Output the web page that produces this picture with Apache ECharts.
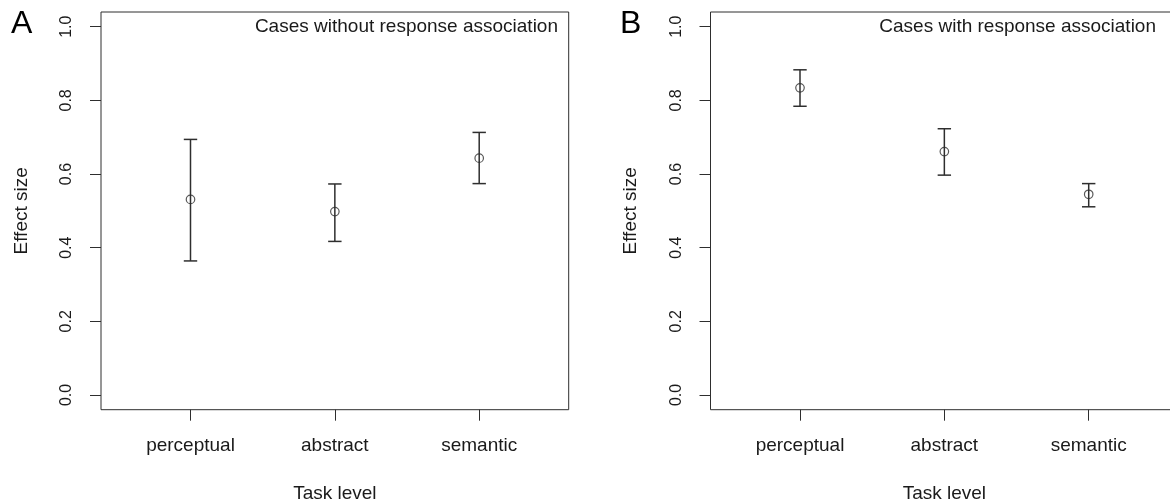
<!DOCTYPE html>
<html>
<head>
<meta charset="utf-8">
<script src="https://cdn.jsdelivr.net/npm/echarts@6/dist/echarts.min.js"></script>
<style>
html,body{margin:0;padding:0;background:#fff;}
#chart{width:1170px;height:504px;}
</style>
</head>
<body>
<div id="chart"></div>
<script>
// ---- data ----
const categories = ['perceptual', 'abstract', 'semantic'];
const categoryPos = [1, 2, 3];
const yTickValues = [0, 0.2, 0.4, 0.6, 0.8, 1.0];

const meanA = [0.531, 0.498, 0.643];
const lowA  = [0.364, 0.417, 0.574];
const highA = [0.694, 0.573, 0.713];

const meanB = [0.834, 0.661, 0.545];
const lowB  = [0.784, 0.597, 0.511];
const highB = [0.883, 0.723, 0.574];

const titleA = 'Cases without response association';
const titleB = 'Cases with response association';
const xName = 'Task level';
const yName = 'Effect size';

// ---- styles ----
const FONT = "'Liberation Sans', Arial, sans-serif";
const INK = '#2e2e2e';
const TXT = '#1a1a1a';

function grid(left) {
  return {left: left, top: 12, width: 467.7, height: 397.7, show: true,
          borderColor: INK, borderWidth: 1, backgroundColor: 'transparent',
          containLabel: false, outerBoundsMode: 'none'};
}
function xAxis(i) {
  return {
    gridIndex: i, type: 'value', min: 0.38, max: 3.62,
    axisLine: {show: false, onZero: false},
    splitLine: {show: false},
    axisTick: {show: true, length: 11, customValues: categoryPos, lineStyle: {color: INK, width: 1}},
    axisLabel: {show: true, customValues: categoryPos, margin: 27, fontSize: 19, fontFamily: FONT, color: TXT,
                formatter: v => categories[Math.round(v) - 1] || ''},
    name: xName, nameLocation: 'middle', nameGap: 75,
    nameTextStyle: {fontSize: 19, fontFamily: FONT, color: TXT}
  };
}
function yAxis(i) {
  return {
    gridIndex: i, type: 'value', min: -0.04, max: 1.04,
    axisLine: {show: false, onZero: false},
    splitLine: {show: false},
    axisTick: {show: true, length: 11, customValues: yTickValues, lineStyle: {color: INK, width: 1}},
    axisLabel: {show: true, customValues: yTickValues, rotate: 90, margin: 26, fontSize: 16, fontFamily: FONT, color: TXT,
                formatter: v => v.toFixed(1)},
    name: yName, nameLocation: 'middle', nameRotate: 90, nameGap: 70,
    nameTextStyle: {fontSize: 19, fontFamily: FONT, color: TXT}
  };
}
function errData(mean, low, high) {
  return categoryPos.map((x, k) => [x, low[k], high[k], mean[k]]);
}
function errSeries(i, mean, low, high) {
  return {
    type: 'custom', xAxisIndex: i, yAxisIndex: i, z: 3,
    data: errData(mean, low, high),
    renderItem: function (params, api) {
      const x = api.value(0);
      const lo = api.coord([x, api.value(1)]);
      const hi = api.coord([x, api.value(2)]);
      const hw = 6.7;
      const style = {stroke: INK, lineWidth: 1.5, fill: null};
      return {type: 'group', children: [
        {type: 'line', shape: {x1: lo[0], y1: lo[1], x2: hi[0], y2: hi[1]}, style: style},
        {type: 'line', shape: {x1: lo[0] - hw, y1: lo[1], x2: lo[0] + hw, y2: lo[1]}, style: style},
        {type: 'line', shape: {x1: hi[0] - hw, y1: hi[1], x2: hi[0] + hw, y2: hi[1]}, style: style}
      ]};
    }
  };
}
function pointSeries(i, mean) {
  return {
    type: 'scatter', xAxisIndex: i, yAxisIndex: i, z: 4,
    symbol: 'circle', symbolSize: 8.5,
    itemStyle: {color: 'rgba(0,0,0,0)', borderColor: INK, borderWidth: 1.2},
    data: categoryPos.map((x, k) => [x, mean[k]])
  };
}

const chart = echarts.init(document.getElementById('chart'), null, {renderer: 'canvas'});
chart.setOption({
  animation: false,
  backgroundColor: '#fff',
  grid: [grid(101), grid(710.5)],
  xAxis: [xAxis(0), xAxis(1)],
  yAxis: [yAxis(0), yAxis(1)],
  series: [
    errSeries(0, meanA, lowA, highA), pointSeries(0, meanA),
    errSeries(1, meanB, lowB, highB), pointSeries(1, meanB)
  ],
  graphic: [
    {type: 'text', x: 558, y: 27, style: {text: titleA, font: '19px ' + FONT, fill: TXT, align: 'right', verticalAlign: 'middle'}},
    {type: 'text', x: 1156, y: 27, style: {text: titleB, font: '19px ' + FONT, fill: TXT, align: 'right', verticalAlign: 'middle'}},
    {type: 'text', x: 11, y: 24, style: {text: 'A', font: '32px ' + FONT, fill: '#000', align: 'left', verticalAlign: 'middle'}},
    {type: 'text', x: 620, y: 24, style: {text: 'B', font: '32px ' + FONT, fill: '#000', align: 'left', verticalAlign: 'middle'}}
  ]
});
</script>
</body>
</html>
